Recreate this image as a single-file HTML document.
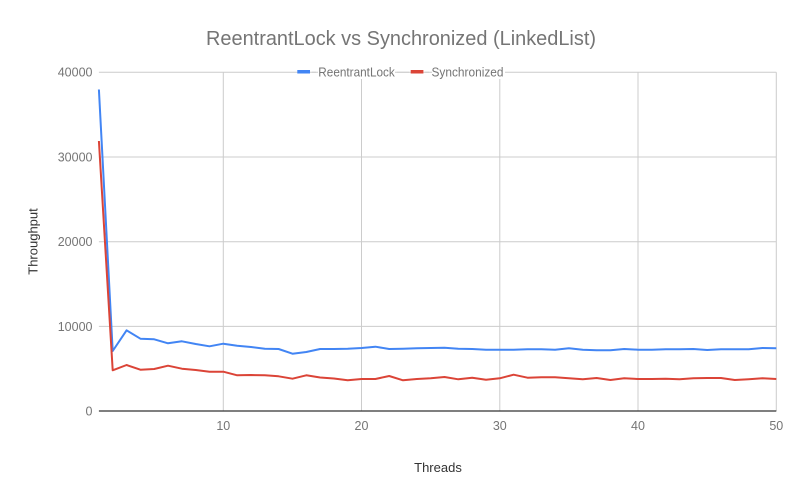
<!DOCTYPE html>
<html><head><meta charset="utf-8"><style>
html,body{margin:0;padding:0;background:#fff;}
svg{display:block;font-family:"Liberation Sans",Arial,sans-serif;}
</style></head><body>
<svg width="801" height="490" viewBox="0 0 801 490" xmlns="http://www.w3.org/2000/svg">
<rect width="801" height="490" fill="#fff"/>
<text x="401" y="45" font-size="20" fill="#757575" text-anchor="middle" textLength="390" lengthAdjust="spacingAndGlyphs">ReentrantLock vs Synchronized (LinkedList)</text>
<g stroke="#cccccc" stroke-width="1" fill="none">
<line x1="98.9" y1="72.3" x2="776.3" y2="72.3"/>
<line x1="98.9" y1="157" x2="776.3" y2="157"/>
<line x1="98.9" y1="241.7" x2="776.3" y2="241.7"/>
<line x1="98.9" y1="326.4" x2="776.3" y2="326.4"/>
<line x1="223.3" y1="72.3" x2="223.3" y2="411"/>
<line x1="361.5" y1="72.3" x2="361.5" y2="411"/>
<line x1="499.8" y1="72.3" x2="499.8" y2="411"/>
<line x1="638" y1="72.3" x2="638" y2="411"/>
<line x1="776.3" y1="72.3" x2="776.3" y2="411"/>
</g>
<!-- legend -->
<rect x="296" y="64" width="16" height="15" fill="#fff"/>
<rect x="316" y="63" width="81" height="16" fill="#fff"/>
<rect x="409" y="64" width="16" height="15" fill="#fff"/>
<rect x="429" y="63" width="76" height="16" fill="#fff"/>
<line x1="296" y1="72.3" x2="318" y2="72.3" stroke="#cccccc"/>
<line x1="395" y1="72.3" x2="432" y2="72.3" stroke="#cccccc"/>
<rect x="297.3" y="70" width="12.7" height="3.5" fill="#4285f4"/>
<rect x="410.7" y="70" width="12.7" height="3.5" fill="#db4437"/>
<text x="318.3" y="76.6" font-size="12.5" fill="#757575" textLength="76.5" lengthAdjust="spacingAndGlyphs">ReentrantLock</text>
<text x="431.5" y="76.6" font-size="12.5" fill="#757575" textLength="72" lengthAdjust="spacingAndGlyphs">Synchronized</text>
<!-- y tick labels -->
<g font-size="12.5" fill="#757575" text-anchor="end">
<text x="92.5" y="76.7">40000</text>
<text x="92.5" y="161.4">30000</text>
<text x="92.5" y="246.1">20000</text>
<text x="92.5" y="330.8">10000</text>
<text x="92.5" y="415.5">0</text>
</g>
<g font-size="12.5" fill="#757575" text-anchor="middle">
<text x="223.3" y="430">10</text>
<text x="361.5" y="430">20</text>
<text x="499.8" y="430">30</text>
<text x="638" y="430">40</text>
<text x="776.3" y="430">50</text>
</g>
<text x="438" y="472" font-size="13" fill="#333" text-anchor="middle">Threads</text>
<text transform="translate(37.5,241.5) rotate(-90)" font-size="13" fill="#333" text-anchor="middle">Throughput</text>
<!-- series -->
<polyline fill="none" stroke="#4285f4" stroke-width="2" stroke-linejoin="round" points="98.9,89.5 112.7,351 126.6,330.3 140.4,338.7 154.2,339.3 168.0,343.3 181.9,341.3 195.7,344 209.5,346.3 223.3,343.7 237.2,345.7 251.0,347 264.8,348.7 278.6,349 292.5,353.7 306.3,352 320.1,349 333.9,349 347.7,348.7 361.6,348 375.4,346.7 389.2,349 403.0,348.7 416.9,348.3 430.7,348 444.5,347.7 458.3,348.7 472.2,349 486.0,349.7 499.8,349.7 513.6,349.7 527.5,349.3 541.3,349.3 555.1,349.7 568.9,348.3 582.8,349.7 596.6,350.3 610.4,350.3 624.2,349 638.1,349.7 651.9,349.7 665.7,349.3 679.5,349.3 693.4,349 707.2,350 721.0,349.3 734.8,349.3 748.7,349.3 762.5,348 776.3,348.3"/>
<polyline fill="none" stroke="#db4437" stroke-width="2" stroke-linejoin="round" points="98.9,141 112.7,370.3 126.6,365 140.4,369.7 154.2,369 168.0,365.7 181.9,368.7 195.7,370 209.5,371.7 223.3,371.7 237.2,375.3 251.0,375 264.8,375.3 278.6,376.3 292.5,378.7 306.3,375.3 320.1,377.5 333.9,378.5 347.7,380.3 361.6,379 375.4,379 389.2,376 403.0,380.3 416.9,379 430.7,378.3 444.5,377 458.3,379.3 472.2,377.7 486.0,379.7 499.8,378.3 513.6,374.7 527.5,377.7 541.3,377.3 555.1,377.3 568.9,378.3 582.8,379.3 596.6,378 610.4,380 624.2,378.3 638.1,379 651.9,379 665.7,378.7 679.5,379.3 693.4,378.3 707.2,378 721.0,378 734.8,380 748.7,379.3 762.5,378.3 776.3,379"/>
<line x1="98.9" y1="411" x2="776.3" y2="411" stroke="#333" stroke-width="1.3"/>
</svg>
</body></html>
